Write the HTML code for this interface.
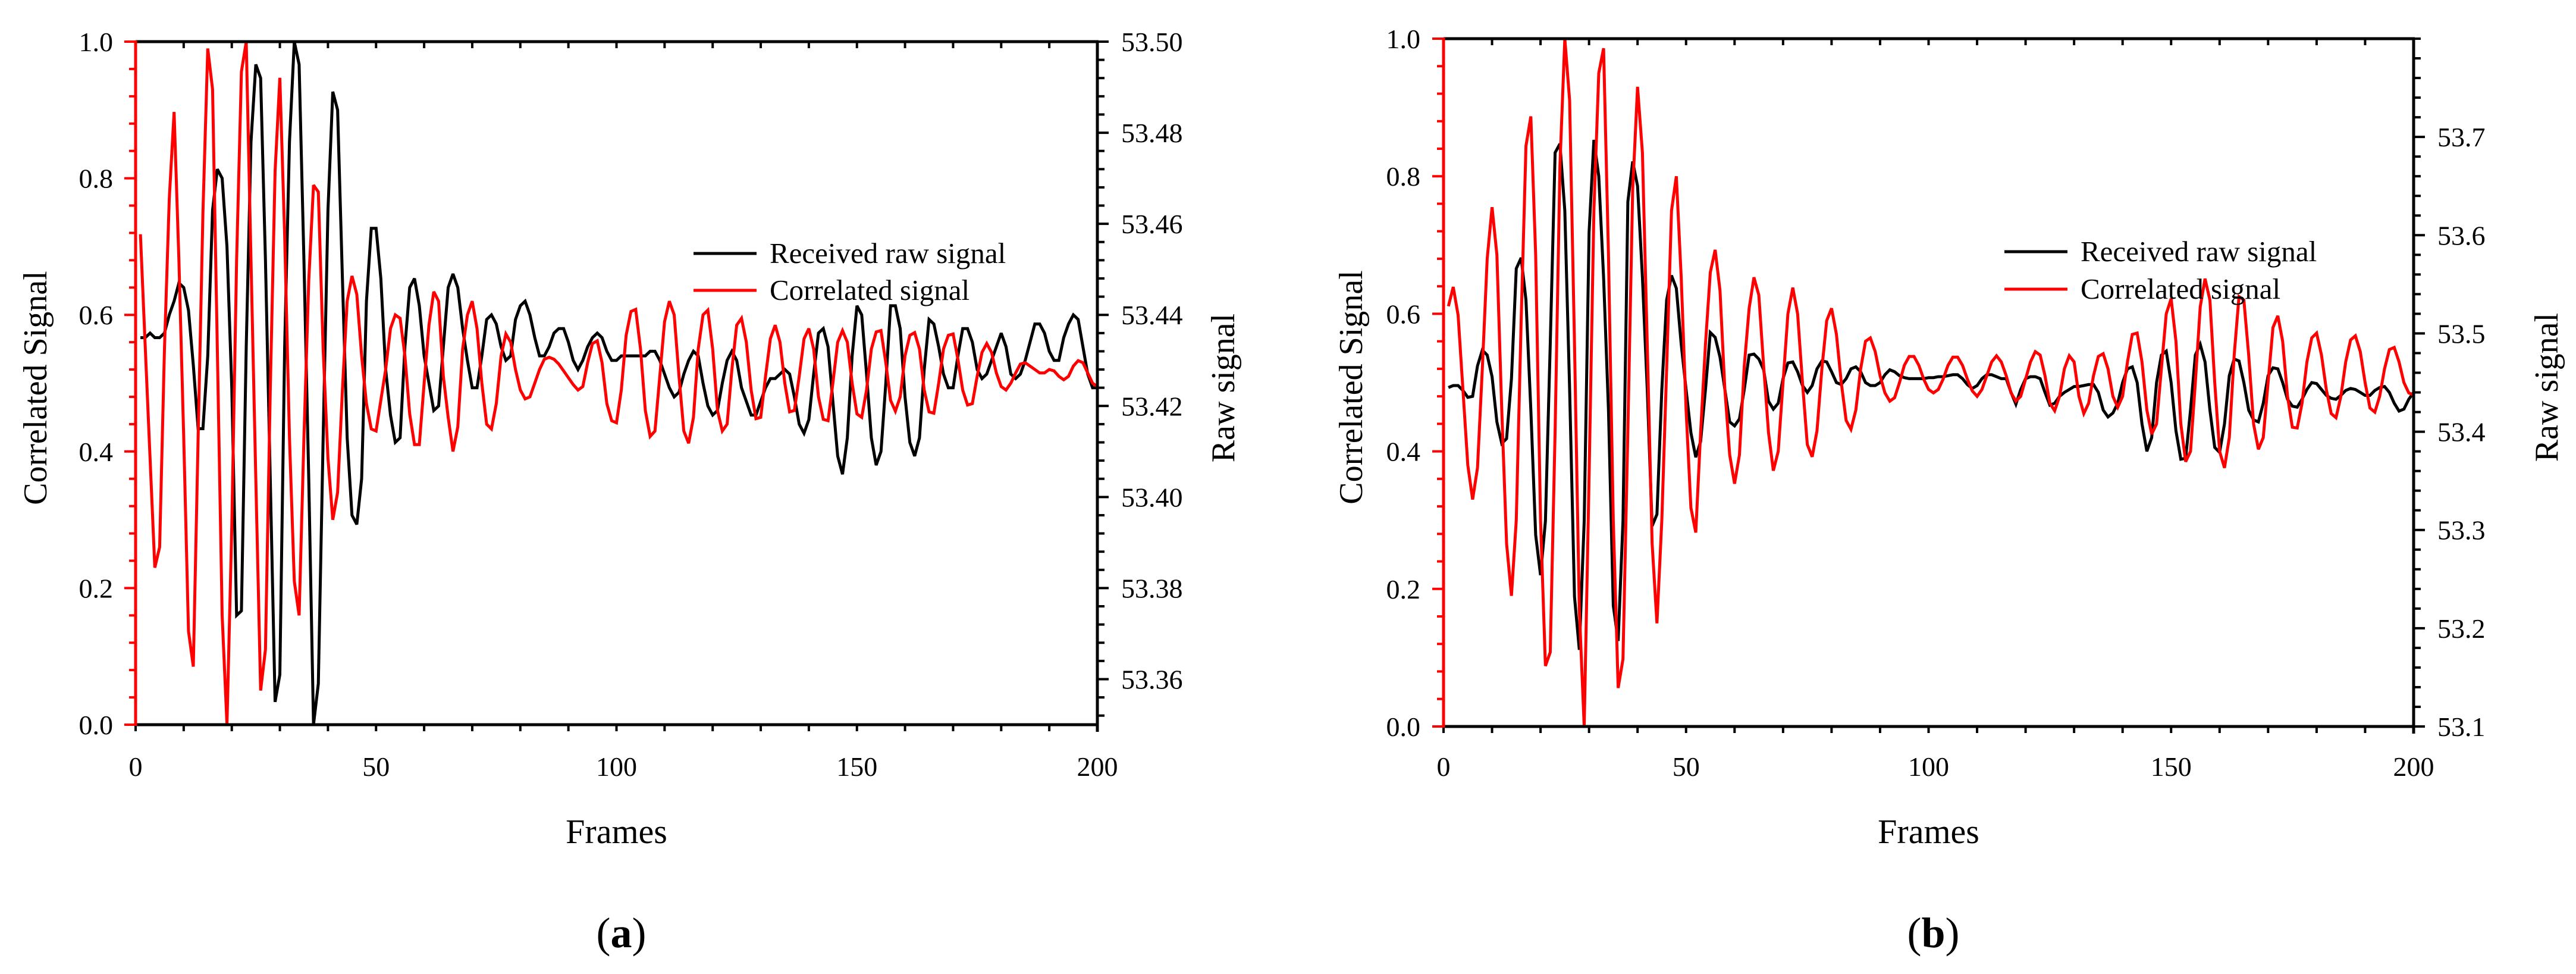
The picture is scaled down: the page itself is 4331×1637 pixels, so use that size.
<!DOCTYPE html>
<html><head><meta charset="utf-8">
<style>
html,body{margin:0;padding:0;background:#fff;}
svg{display:block;font-family:"Liberation Serif",serif;}
svg text{font-family:"Liberation Serif",serif;}
</style></head>
<body>
<svg id="fig" xmlns="http://www.w3.org/2000/svg" width="4331" height="1637" viewBox="0 0 4331 1637" font-family="Liberation Serif, serif">
<rect x="0" y="0" width="4331" height="1637" fill="#fff"/>
</svg>
<script>
// ---- Data: panel (a) ----
const framesDomain = [0, 200];
const corrTicks = [0.0, 0.2, 0.4, 0.6, 0.8, 1.0];
const frameTicks = [0, 50, 100, 150, 200];
const rawTicksA = [53.36, 53.38, 53.40, 53.42, 53.44, 53.46, 53.48, 53.50];
const rawDomainA = [53.35, 53.50];
const rawTicksB = [53.1, 53.2, 53.3, 53.4, 53.5, 53.6, 53.7];
const rawDomainB = [53.1, 53.8];

const corrA = [0.718,0.553,0.39,0.23,0.26,0.55,0.77,0.897,0.68,0.42,0.137,0.085,0.42,0.75,0.99,0.93,0.55,0.16,0,0.29,0.68,0.956,1.0,0.68,0.36,0.05,0.11,0.49,0.81,0.947,0.716,0.42,0.21,0.16,0.42,0.65,0.79,0.78,0.55,0.39,0.30,0.34,0.49,0.62,0.657,0.63,0.54,0.47,0.433,0.43,0.475,0.52,0.58,0.60,0.595,0.54,0.455,0.41,0.41,0.50,0.585,0.634,0.62,0.51,0.45,0.40,0.436,0.55,0.60,0.62,0.58,0.50,0.44,0.433,0.47,0.54,0.572,0.56,0.52,0.49,0.477,0.48,0.50,0.52,0.535,0.538,0.535,0.528,0.518,0.508,0.498,0.49,0.495,0.53,0.558,0.562,0.53,0.47,0.445,0.442,0.49,0.57,0.605,0.608,0.55,0.46,0.422,0.43,0.51,0.59,0.62,0.60,0.51,0.43,0.412,0.45,0.55,0.60,0.607,0.55,0.46,0.43,0.44,0.52,0.585,0.595,0.56,0.49,0.448,0.45,0.51,0.565,0.585,0.56,0.50,0.458,0.46,0.51,0.565,0.58,0.55,0.48,0.447,0.445,0.50,0.56,0.577,0.56,0.50,0.455,0.45,0.49,0.55,0.575,0.577,0.53,0.475,0.459,0.48,0.54,0.57,0.574,0.55,0.49,0.458,0.456,0.50,0.55,0.57,0.572,0.535,0.49,0.468,0.47,0.51,0.545,0.558,0.545,0.515,0.495,0.49,0.50,0.515,0.528,0.53,0.525,0.52,0.515,0.515,0.52,0.518,0.51,0.505,0.51,0.525,0.533,0.53,0.515,0.50,0.495];
const rawA = [53.435,53.435,53.436,53.435,53.435,53.436,53.440,53.443,53.447,53.446,53.441,53.429,53.415,53.415,53.431,53.463,53.472,53.470,53.455,53.424,53.374,53.375,53.433,53.478,53.495,53.492,53.452,53.404,53.355,53.361,53.433,53.478,53.500,53.495,53.452,53.404,53.350,53.359,53.413,53.463,53.489,53.485,53.448,53.413,53.396,53.394,53.404,53.443,53.459,53.459,53.448,53.428,53.418,53.412,53.413,53.433,53.446,53.448,53.442,53.431,53.425,53.419,53.420,53.433,53.446,53.449,53.446,53.437,53.430,53.424,53.424,53.431,53.439,53.440,53.438,53.433,53.430,53.431,53.439,53.442,53.443,53.440,53.435,53.431,53.431,53.433,53.436,53.437,53.437,53.434,53.430,53.428,53.430,53.433,53.435,53.436,53.435,53.432,53.430,53.430,53.431,53.431,53.431,53.431,53.431,53.431,53.432,53.432,53.430,53.427,53.424,53.422,53.423,53.427,53.430,53.432,53.431,53.425,53.420,53.418,53.419,53.425,53.430,53.432,53.430,53.424,53.421,53.418,53.418,53.421,53.424,53.426,53.426,53.427,53.428,53.427,53.422,53.416,53.414,53.417,53.427,53.436,53.437,53.433,53.421,53.409,53.405,53.413,53.431,53.442,53.440,53.427,53.413,53.407,53.410,53.425,53.442,53.442,53.437,53.422,53.412,53.409,53.413,53.428,53.439,53.438,53.433,53.427,53.424,53.424,53.431,53.437,53.437,53.434,53.428,53.426,53.427,53.430,53.433,53.436,53.433,53.427,53.426,53.427,53.430,53.434,53.438,53.438,53.436,53.432,53.430,53.430,53.435,53.438,53.440,53.439,53.433,53.427,53.424,53.424];

// ---- Data: panel (b) ----
const corrB = [0.611,0.639,0.598,0.49,0.38,0.33,0.376,0.52,0.68,0.755,0.686,0.46,0.266,0.19,0.30,0.59,0.844,0.887,0.686,0.30,0.088,0.108,0.43,0.815,1.0,0.91,0.556,0.17,0,0.363,0.75,0.95,0.986,0.686,0.30,0.056,0.098,0.43,0.78,0.93,0.834,0.556,0.266,0.15,0.30,0.52,0.75,0.80,0.653,0.46,0.318,0.282,0.427,0.556,0.66,0.693,0.634,0.49,0.395,0.353,0.395,0.524,0.608,0.653,0.627,0.524,0.427,0.372,0.40,0.50,0.60,0.638,0.60,0.50,0.41,0.392,0.43,0.52,0.59,0.608,0.57,0.50,0.445,0.432,0.46,0.52,0.56,0.565,0.545,0.51,0.485,0.473,0.478,0.50,0.525,0.538,0.538,0.525,0.505,0.49,0.485,0.49,0.505,0.525,0.537,0.537,0.525,0.505,0.488,0.48,0.49,0.51,0.53,0.539,0.53,0.51,0.485,0.473,0.48,0.505,0.53,0.545,0.54,0.51,0.47,0.459,0.48,0.52,0.539,0.53,0.48,0.455,0.47,0.51,0.538,0.542,0.52,0.48,0.464,0.48,0.53,0.57,0.572,0.53,0.46,0.425,0.44,0.52,0.60,0.622,0.56,0.44,0.385,0.40,0.50,0.61,0.651,0.62,0.50,0.40,0.376,0.42,0.54,0.625,0.62,0.54,0.44,0.403,0.42,0.50,0.58,0.597,0.56,0.48,0.435,0.434,0.47,0.53,0.565,0.572,0.54,0.49,0.455,0.449,0.48,0.53,0.562,0.568,0.545,0.50,0.463,0.457,0.48,0.52,0.548,0.551,0.53,0.50,0.485,0.482];
const rawB = [53.445,53.447,53.447,53.442,53.435,53.436,53.467,53.483,53.478,53.456,53.410,53.388,53.393,53.454,53.566,53.577,53.534,53.422,53.295,53.254,53.309,53.489,53.684,53.693,53.625,53.443,53.232,53.178,53.309,53.603,53.697,53.660,53.557,53.422,53.223,53.187,53.309,53.634,53.675,53.650,53.557,53.443,53.304,53.316,53.443,53.534,53.559,53.546,53.489,53.443,53.399,53.374,53.390,53.443,53.501,53.496,53.476,53.443,53.410,53.406,53.413,53.443,53.478,53.479,53.474,53.463,53.431,53.423,53.429,53.454,53.470,53.471,53.461,53.447,53.440,53.447,53.464,53.472,53.471,53.461,53.450,53.448,53.454,53.464,53.466,53.461,53.450,53.447,53.447,53.450,53.458,53.463,53.461,53.457,53.455,53.454,53.454,53.454,53.454,53.455,53.455,53.456,53.456,53.457,53.458,53.458,53.454,53.448,53.444,53.447,53.454,53.458,53.458,53.456,53.454,53.454,53.440,53.428,53.443,53.454,53.456,53.456,53.454,53.440,53.427,53.429,53.436,53.440,53.443,53.446,53.446,53.447,53.448,53.448,53.440,53.422,53.415,53.419,53.429,53.450,53.464,53.466,53.450,53.408,53.380,53.394,53.450,53.478,53.482,53.450,53.401,53.372,53.373,53.422,53.478,53.489,53.471,53.422,53.384,53.379,53.408,53.457,53.474,53.472,53.450,53.422,53.412,53.410,53.429,53.457,53.465,53.464,53.450,53.433,53.426,53.425,53.433,53.443,53.450,53.449,53.443,53.437,53.434,53.433,53.437,53.442,53.444,53.443,53.440,53.437,53.437,53.442,53.445,53.446,53.440,53.429,53.421,53.423,53.433,53.440];

const NS = 'http://www.w3.org/2000/svg';
const svg = document.getElementById('fig');
function mk(tag, attrs, parent) {
  const e = document.createElementNS(NS, tag);
  for (const k in attrs) e.setAttribute(k, attrs[k]);
  if (tag === 'text') e.setAttribute('font-family', 'Liberation Serif, serif');
  (parent || svg).appendChild(e);
  return e;
}
function fmt(v, d) { return v.toFixed(d); }

function panel(cfg) {
  const g = mk('g', {});
  
  
  const L = cfg.L, R = cfg.R, T = cfg.T, B = cfg.B;
  const xs = f => L + (f - framesDomain[0]) / (framesDomain[1] - framesDomain[0]) * (R - L);
  const yl = v => B - v * (B - T);
  const yr = v => B - (v - cfg.rawDomain[0]) / (cfg.rawDomain[1] - cfg.rawDomain[0]) * (B - T);

  function series(arr, yf, color, name) {
    let d = '';
    arr.forEach((v, i) => { d += (i ? 'L' : 'M') + xs(i + 1).toFixed(1) + ' ' + yf(v).toFixed(1); });
    const p = mk('path', {d: d, fill: 'none', stroke: color, 'stroke-width': 5, 'stroke-linejoin': 'miter', 'stroke-miterlimit': 3}, g);
    
    
  }
  series(cfg.raw, yr, '#000', 'raw-signal-line');
  series(cfg.corr, yl, '#ff0000', 'correlated-signal-line');

  for (let f = 0; f <= 200; f += 10) {
    const x = xs(f);
    mk('line', {x1: x, y1: T, x2: x, y2: T + 11, stroke: '#000', 'stroke-width': 4}, g);
    mk('line', {x1: x, y1: B, x2: x, y2: B + 11, stroke: '#000', 'stroke-width': 4}, g);
  }
  frameTicks.forEach(f => {
    const t = mk('text', {x: xs(f), y: 1304, 'font-size': 46, 'text-anchor': 'middle', fill: '#000'}, g);
    t.textContent = f;
    
    
  });
  for (let k = 0; k <= 25; k++) {
    const v = k * 0.04, y = yl(v);
    const major = k % 5 === 0;
    mk('line', {x1: L - (major ? 19 : 11), y1: y, x2: L, y2: y, stroke: '#ff0000', 'stroke-width': 4}, g);
  }
  corrTicks.forEach(v => {
    const t = mk('text', {x: cfg.leftLabelX, y: yl(v) + 16, 'font-size': 46, 'text-anchor': 'end', fill: '#000'}, g);
    t.textContent = fmt(v, 1);
    
    
  });
  const span = cfg.rawDomain[1] - cfg.rawDomain[0];
  const nMinor = Math.round(span / cfg.rawMinor);
  for (let k = 0; k <= nMinor; k++) {
    const v = cfg.rawDomain[1] - k * cfg.rawMinor;
    const y = yr(v);
    if (y > B + 1) continue;
    const isMajor = cfg.rawTicks.some(t => Math.abs(t - v) < 1e-6);
    mk('line', {x1: R, y1: y, x2: R + (isMajor ? 19 : 12), y2: y, stroke: '#000', 'stroke-width': 4}, g);
  }
  cfg.rawTicks.forEach(v => {
    const t = mk('text', {x: cfg.rightLabelX, y: yr(v) + 16, 'font-size': 46, 'text-anchor': 'start', fill: '#000'}, g);
    t.textContent = fmt(v, cfg.rawDec);
    
    
  });
  mk('line', {x1: L, y1: T, x2: R + 2, y2: T, stroke: '#000', 'stroke-width': 5}, g);
  mk('line', {x1: L, y1: B, x2: R + 2, y2: B, stroke: '#000', 'stroke-width': 5}, g);
  mk('line', {x1: R, y1: T - 2, x2: R, y2: B + 12, stroke: '#000', 'stroke-width': 5}, g);
  mk('line', {x1: L, y1: T - 2, x2: L, y2: B + 2, stroke: '#ff0000', 'stroke-width': 5}, g);

  const cx = (L + R) / 2, cy = (T + B) / 2 + 8;
  let t = mk('text', {x: cx, y: 1417, 'font-size': 58, 'text-anchor': 'middle'}, g);
  t.textContent = 'Frames';
  
  
  t = mk('text', {x: 0, y: 0, 'font-size': 56, 'text-anchor': 'middle', transform: `translate(${cfg.leftTitleX},${cy}) rotate(-90)`}, g);
  t.textContent = 'Correlated Signal';
  
  
  t = mk('text', {x: 0, y: 0, 'font-size': 56, 'text-anchor': 'middle', transform: `translate(${cfg.rightTitleX},${cy}) rotate(-90)`}, g);
  t.textContent = 'Raw signal';
  
  

  const lg = mk('g', {}, g);
  
  
  mk('line', {x1: cfg.legX1, y1: cfg.legY1, x2: cfg.legX1 + 106, y2: cfg.legY1, stroke: '#000', 'stroke-width': 5}, lg);
  mk('line', {x1: cfg.legX1, y1: cfg.legY2, x2: cfg.legX1 + 106, y2: cfg.legY2, stroke: '#ff0000', 'stroke-width': 5}, lg);
  t = mk('text', {x: cfg.legX1 + 128, y: cfg.legY1 + 16, 'font-size': 49}, lg);
  t.textContent = 'Received raw signal';
  
  
  t = mk('text', {x: cfg.legX1 + 128, y: cfg.legY2 + 16, 'font-size': 49}, lg);
  t.textContent = 'Correlated signal';
  
  

  t = mk('text', {x: cx + 8, y: 1592, 'font-size': 72, 'text-anchor': 'middle'}, g);
  t.innerHTML = '(<tspan font-weight="bold">' + cfg.letter + '</tspan>)';
  
  
}

panel({name: 'chart-a', letter: 'a', L: 228, R: 1845, T: 70, B: 1218,
  corr: corrA, raw: rawA, rawDomain: rawDomainA, rawTicks: rawTicksA, rawMinor: 0.004, rawDec: 2,
  leftLabelX: 190, rightLabelX: 1885, leftTitleX: 78, rightTitleX: 2075,
  legX1: 1166, legY1: 426, legY2: 488});
panel({name: 'chart-b', letter: 'b', L: 2427, R: 4058, T: 65, B: 1221,
  corr: corrB, raw: rawB, rawDomain: rawDomainB, rawTicks: rawTicksB, rawMinor: 0.02, rawDec: 1,
  leftLabelX: 2388, rightLabelX: 4098, leftTitleX: 2290, rightTitleX: 4300,
  legX1: 3370, legY1: 423, legY2: 486});
</script>
</body></html>
